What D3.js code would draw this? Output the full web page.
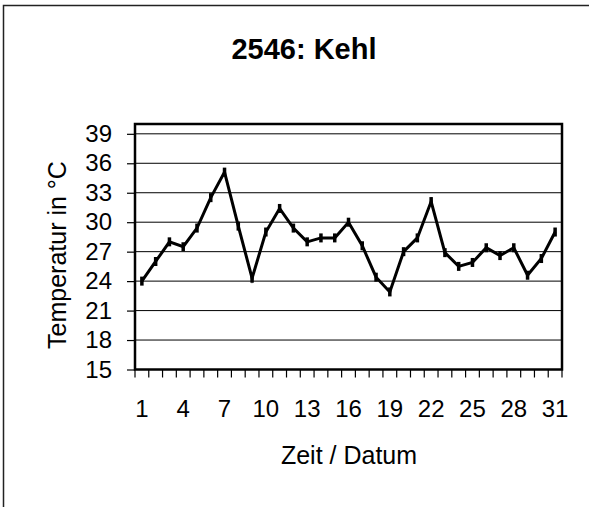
<!DOCTYPE html>
<html>
<head>
<meta charset="utf-8">
<script src="https://cdn.jsdelivr.net/npm/d3@7"></script>
<style>
  body { margin: 0; background: #fff; }
  text { font-family: "Liberation Sans", Arial, sans-serif; fill: #000; }
</style>
</head>
<body>
<svg id="chart" width="589" height="507"></svg>
<script>
var days = d3.range(1, 32);
var temps = [24.0, 26.0, 28.0, 27.5, 29.4, 32.5, 35.1, 29.6, 24.3, 29.0,
             31.4, 29.4, 28.0, 28.4, 28.4, 30.0, 27.6, 24.4, 22.9, 27.0,
             28.4, 32.1, 26.9, 25.5, 25.9, 27.4, 26.6, 27.4, 24.6, 26.3, 29.0];
var yTicks = [15, 18, 21, 24, 27, 30, 33, 36, 39];
var xLabels = [1, 4, 7, 10, 13, 16, 19, 22, 25, 28, 31];

var svg = d3.select("#chart");

// outer frame (runs off the right and bottom edge like the picture)
svg.append("rect")
    .attr("x", 3.5).attr("y", 5.5)
    .attr("width", 620).attr("height", 540)
    .attr("fill", "none")
    .attr("stroke", "#222")
    .attr("stroke-width", 1.5);

var plotLeft = 135, plotRight = 562, plotTop = 124, plotBottom = 369.5;

var x = d3.scaleBand().domain(days).range([plotLeft, plotRight]).paddingInner(0).paddingOuter(0);
var y = d3.scaleLinear().domain([15, 40]).range([plotBottom, plotTop]);

svg.append("text")
    .attr("x", 304).attr("y", 59)
    .attr("text-anchor", "middle")
    .style("font-size", "29px")
    .style("font-weight", "bold")
    .text("2546: Kehl");

// gridlines
svg.append("g")
  .selectAll("line")
  .data(yTicks)
  .enter().append("line")
    .attr("x1", plotLeft).attr("x2", plotRight)
    .attr("y1", function(d) { return y(d); })
    .attr("y2", function(d) { return y(d); })
    .attr("stroke", "#000")
    .attr("stroke-width", 1);

// y axis
var yAxis = d3.axisLeft(y).tickValues(yTicks).tickSize(8).tickPadding(15);
svg.append("g")
    .attr("transform", "translate(" + plotLeft + ",0)")
    .call(yAxis)
    .call(function(g) { g.select(".domain").remove(); })
    .call(function(g) {
      g.selectAll("text").style("font-size", "24px").attr("font-family", null);
      g.selectAll("line").attr("stroke", "#000").attr("stroke-width", 1.2);
    });

// x tick marks between categories
var bounds = days.map(function(d) { return x(d); }).concat([plotRight]);
svg.append("g")
  .selectAll("line")
  .data(bounds)
  .enter().append("line")
    .attr("x1", function(d) { return d; }).attr("x2", function(d) { return d; })
    .attr("y1", plotBottom).attr("y2", plotBottom + 8)
    .attr("stroke", "#000")
    .attr("stroke-width", 1.2);

// x labels
var xAxis = d3.axisBottom(x).tickValues(xLabels).tickSize(0).tickPadding(30);
svg.append("g")
    .attr("transform", "translate(0," + plotBottom + ")")
    .call(xAxis)
    .call(function(g) { g.select(".domain").remove(); })
    .call(function(g) {
      g.selectAll("text").style("font-size", "24px").attr("font-family", null);
    });

// plot area border
svg.append("rect")
    .attr("x", plotLeft).attr("y", plotTop)
    .attr("width", plotRight - plotLeft).attr("height", plotBottom - plotTop)
    .attr("fill", "none")
    .attr("stroke", "#000")
    .attr("stroke-width", 2.5);

var cx = function(i) { return x(days[i]) + x.bandwidth() / 2; };

var line = d3.line()
    .x(function(d, i) { return cx(i); })
    .y(function(d) { return y(d); });

svg.append("path")
    .datum(temps)
    .attr("d", line)
    .attr("fill", "none")
    .attr("stroke", "#000")
    .attr("stroke-width", 3)
    .attr("stroke-linejoin", "miter");

svg.append("g")
  .selectAll("line")
  .data(temps)
  .enter().append("line")
    .attr("x1", function(d, i) { return cx(i); })
    .attr("x2", function(d, i) { return cx(i); })
    .attr("y1", function(d) { return y(d) - 4.5; })
    .attr("y2", function(d) { return y(d) + 4.5; })
    .attr("stroke", "#000")
    .attr("stroke-width", 3.5);

svg.append("text")
    .attr("x", 349).attr("y", 464)
    .attr("text-anchor", "middle")
    .style("font-size", "25px")
    .text("Zeit / Datum");

svg.append("text")
    .attr("transform", "translate(66,255) rotate(-90)")
    .attr("text-anchor", "middle")
    .style("font-size", "25px")
    .text("Temperatur in °C");
</script>
</body>
</html>
